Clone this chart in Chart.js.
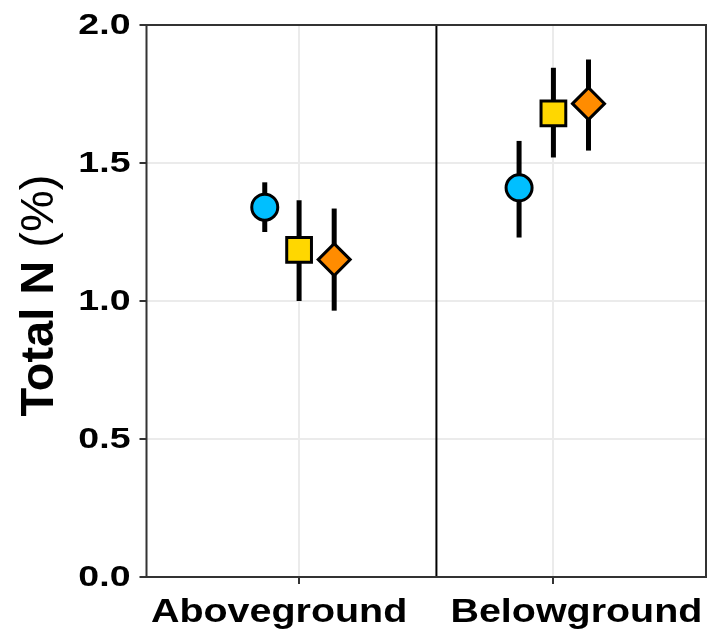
<!DOCTYPE html>
<html>
<head>
<meta charset="utf-8">
<script src="https://cdn.jsdelivr.net/npm/chart.js@4"></script>
<style>
  html, body { margin: 0; padding: 0; background: #fff; }
  #wrap { width: 712px; height: 636px; }
</style>
</head>
<body>
<div id="wrap"><canvas id="chart" width="712" height="636"></canvas></div>
<script>
// categories on the x axis
const categories = ["Aboveground", "Belowground"];
const yTicks = [0, 0.5, 1.0, 1.5, 2.0];

// circle series (blue)
const circleMean = [1.34, 1.41];
const circleLow = [1.25, 1.23];
const circleHigh = [1.43, 1.58];

// square series (yellow)
const squareMean = [1.185, 1.68];
const squareLow = [1.0, 1.52];
const squareHigh = [1.365, 1.845];

// diamond series (orange)
const diamondMean = [1.15, 1.715];
const diamondLow = [0.965, 1.545];
const diamondHigh = [1.335, 1.875];

const dodge = [-0.135, 0, 0.138];
const dividerAt = 1.54;
const FONT = "'Liberation Sans', Arial, Helvetica, sans-serif";
const labelShift = [-20, 23]; // x labels sit a bit off their ticks in the original

function points(mean, low, high, off) {
  return mean.map((m, i) => ({ x: i + 1 + off, y: m, yMin: low[i], yMax: high[i] }));
}

function stretchText(ctx, text, x, y, align, sx) {
  ctx.save();
  ctx.translate(x, y);
  ctx.scale(sx, 1);
  ctx.textAlign = align;
  ctx.fillText(text, 0, 0);
  ctx.restore();
}

// frame + vertical divider + error bars, drawn under the markers
const underlay = {
  id: "underlay",
  beforeDatasetsDraw(chart) {
    const { ctx, chartArea: a, scales } = chart;
    ctx.save();
    const xd = scales.x.getPixelForValue(dividerAt);
    ctx.strokeStyle = "#000";
    ctx.lineWidth = 2;
    ctx.beginPath();
    ctx.moveTo(xd, a.top);
    ctx.lineTo(xd, a.bottom);
    ctx.stroke();
    ctx.strokeStyle = "#333333";
    ctx.lineWidth = 2;
    ctx.strokeRect(a.left, a.top, a.right - a.left, a.bottom - a.top);
    ctx.strokeStyle = "#000";
    ctx.lineWidth = 5;
    ctx.lineCap = "butt";
    chart.data.datasets.forEach((ds) => {
      ds.data.forEach((p) => {
        const x = scales.x.getPixelForValue(p.x);
        ctx.beginPath();
        ctx.moveTo(x, scales.y.getPixelForValue(p.yMin));
        ctx.lineTo(x, scales.y.getPixelForValue(p.yMax));
        ctx.stroke();
      });
    });
    ctx.restore();
  },
};

// tick labels (slightly wide lettering) and the y axis title
const labels = {
  id: "labels",
  afterDraw(chart) {
    const { ctx, chartArea: a, scales } = chart;
    ctx.save();
    ctx.fillStyle = "#000";
    ctx.textBaseline = "alphabetic";

    ctx.font = "bold 30px " + FONT;
    yTicks.forEach((v) => {
      stretchText(ctx, v.toFixed(1), a.left - 16, scales.y.getPixelForValue(v) + 9, "right", 1.25);
    });

    ctx.font = "bold 34px " + FONT;
    categories.forEach((c, i) => {
      stretchText(ctx, c, scales.x.getPixelForValue(i + 1) + labelShift[i], a.bottom + 45, "center", 1.16);
    });

    const bold = "bold 47px " + FONT;
    const plain = "47px " + FONT;
    const t1 = "Total N ";
    const t2 = "(%)";
    ctx.font = bold;
    const w1 = ctx.measureText(t1).width;
    ctx.font = plain;
    const w2 = ctx.measureText(t2).width;
    ctx.translate(53, 295.5);
    ctx.rotate(-Math.PI / 2);
    ctx.textAlign = "left";
    const start = -(w1 + w2) / 2;
    ctx.font = bold;
    ctx.fillText(t1, start, 0);
    ctx.font = plain;
    ctx.fillText(t2, start + w1, 0);
    ctx.restore();
  },
};

new Chart(document.getElementById("chart").getContext("2d"), {
  type: "scatter",
  data: {
    datasets: [
      {
        data: points(circleMean, circleLow, circleHigh, dodge[0]),
        pointStyle: "circle",
        pointRadius: 13,
        backgroundColor: "#00BFFF",
      },
      {
        data: points(squareMean, squareLow, squareHigh, dodge[1]),
        pointStyle: "rect",
        pointRadius: 17.5,
        backgroundColor: "#FFD700",
      },
      {
        data: points(diamondMean, diamondLow, diamondHigh, dodge[2]),
        pointStyle: "rectRot",
        pointRadius: 16,
        backgroundColor: "#FF8C00",
      },
    ].map((d) => Object.assign(d, { borderColor: "#000", borderWidth: 3, pointHoverRadius: d.pointRadius })),
  },
  plugins: [underlay, labels],
  options: {
    responsive: false,
    animation: false,
    events: [],
    layout: { autoPadding: false, padding: { top: 25, right: 6, left: 0, bottom: 0 } },
    plugins: { legend: { display: false }, tooltip: { enabled: false } },
    scales: {
      x: {
        type: "linear",
        min: 0.4,
        max: 2.6,
        afterBuildTicks: (s) => { s.ticks = categories.map((c, i) => ({ value: i + 1 })); },
        afterFit: (s) => { s.height = 59; },
        border: { display: false },
        grid: { color: "#EBEBEB", lineWidth: 2, tickLength: 7, tickColor: "#333333", tickWidth: 2 },
        ticks: { display: false },
      },
      y: {
        min: 0,
        max: 2,
        afterBuildTicks: (s) => { s.ticks = yTicks.map((v) => ({ value: v })); },
        afterFit: (s) => { s.width = 146.5; },
        border: { display: false },
        grid: { color: "#EBEBEB", lineWidth: 2, tickLength: 7, tickColor: "#333333", tickWidth: 2 },
        ticks: { display: false },
      },
    },
  },
});
</script>
</body>
</html>
